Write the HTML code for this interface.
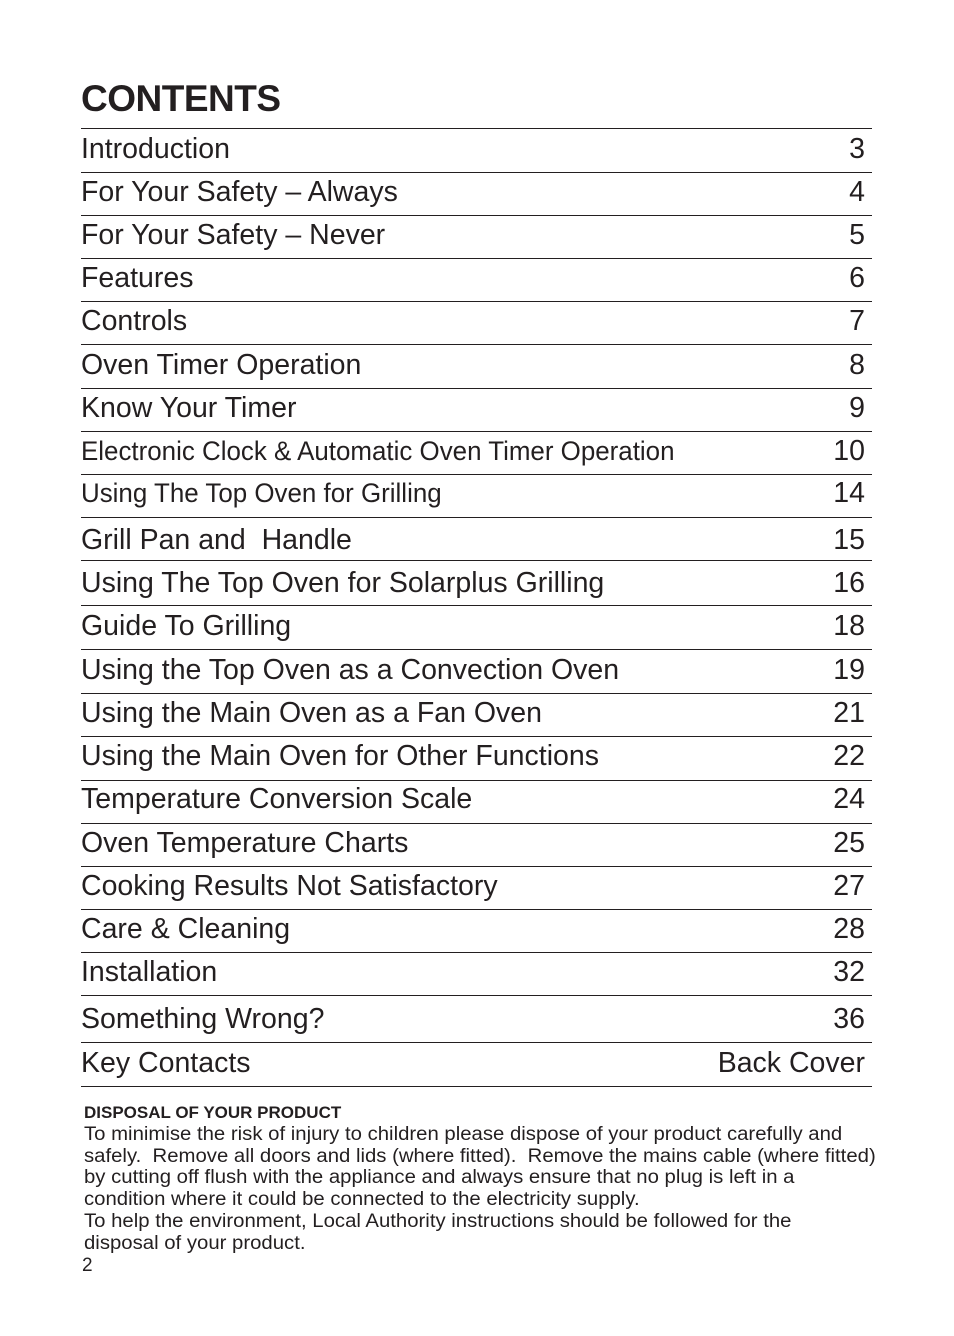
<!DOCTYPE html>
<html><head><meta charset="utf-8"><style>
body{margin:0;width:954px;height:1336px;background:#fff;position:relative;font-family:"Liberation Sans",sans-serif;color:#231f20;overflow:hidden}
h1{position:absolute;left:81px;top:78px;margin:0;font-size:37px;font-weight:bold;letter-spacing:-0.5px}
.l{position:absolute;left:81px;width:791px;height:1px;background:#231f20}
.r{position:absolute;left:81px;width:784px;font-size:28.5px;line-height:32px;white-space:nowrap;margin-top:1px}
.r span{position:absolute;right:0;top:0}
.c{display:inline-block;transform:scaleX(0.96);transform-origin:left;font-size:27px;font-style:normal}
.d{position:absolute;left:84px;top:1102px;font-size:19px;line-height:21.8px;width:850px;white-space:nowrap}
.d .t{display:inline-block;transform:scaleX(1.07);transform-origin:left}
.d b{font-size:17px}
</style></head><body>
<h1>CONTENTS</h1>
<div class="l" style="top:128px"></div>
<div class="r" style="top:132px">Introduction<span>3</span></div>
<div class="l" style="top:172px"></div>
<div class="r" style="top:175px">For Your Safety – Always<span>4</span></div>
<div class="l" style="top:215px"></div>
<div class="r" style="top:218px">For Your Safety – Never<span>5</span></div>
<div class="l" style="top:258px"></div>
<div class="r" style="top:261px">Features<span>6</span></div>
<div class="l" style="top:301px"></div>
<div class="r" style="top:304px">Controls<span>7</span></div>
<div class="l" style="top:344px"></div>
<div class="r" style="top:348px">Oven Timer Operation<span>8</span></div>
<div class="l" style="top:388px"></div>
<div class="r" style="top:391px">Know Your Timer<span>9</span></div>
<div class="l" style="top:431px"></div>
<div class="r" style="top:434px"><i class="c">Electronic Clock &amp; Automatic Oven Timer Operation</i><span>10</span></div>
<div class="l" style="top:474px"></div>
<div class="r" style="top:476px"><i class="c">Using The Top Oven for Grilling</i><span>14</span></div>
<div class="l" style="top:517px"></div>
<div class="r" style="top:523px">Grill Pan and&nbsp; Handle<span>15</span></div>
<div class="l" style="top:560px"></div>
<div class="r" style="top:566px">Using The Top Oven for Solarplus Grilling<span>16</span></div>
<div class="l" style="top:605px"></div>
<div class="r" style="top:609px">Guide To Grilling<span>18</span></div>
<div class="l" style="top:649px"></div>
<div class="r" style="top:653px">Using the Top Oven as a Convection Oven<span>19</span></div>
<div class="l" style="top:693px"></div>
<div class="r" style="top:696px">Using the Main Oven as a Fan Oven<span>21</span></div>
<div class="l" style="top:736px"></div>
<div class="r" style="top:739px">Using the Main Oven for Other Functions<span>22</span></div>
<div class="l" style="top:780px"></div>
<div class="r" style="top:782px">Temperature Conversion Scale<span>24</span></div>
<div class="l" style="top:823px"></div>
<div class="r" style="top:826px">Oven Temperature Charts<span>25</span></div>
<div class="l" style="top:866px"></div>
<div class="r" style="top:869px">Cooking Results Not Satisfactory<span>27</span></div>
<div class="l" style="top:909px"></div>
<div class="r" style="top:912px">Care &amp; Cleaning<span>28</span></div>
<div class="l" style="top:952px"></div>
<div class="r" style="top:955px">Installation<span>32</span></div>
<div class="l" style="top:995px"></div>
<div class="r" style="top:1002px">Something Wrong?<span>36</span></div>
<div class="l" style="top:1042px"></div>
<div class="r" style="top:1046px">Key Contacts<span>Back Cover</span></div>
<div class="l" style="top:1086px"></div>
<div class="d"><b>DISPOSAL OF YOUR PRODUCT</b><br><span class="t">To minimise the risk of injury to children please dispose of your product carefully and</span><br><span class="t">safely.&nbsp; Remove all doors and lids (where fitted).&nbsp; Remove the mains cable (where fitted)</span><br><span class="t">by cutting off flush with the appliance and always ensure that no plug is left in a</span><br><span class="t">condition where it could be connected to the electricity supply.</span><br><span class="t">To help the environment, Local Authority instructions should be followed for the</span><br><span class="t">disposal of your product.</span><br><span style="margin-left:-2px">2</span></div>
</body></html>
